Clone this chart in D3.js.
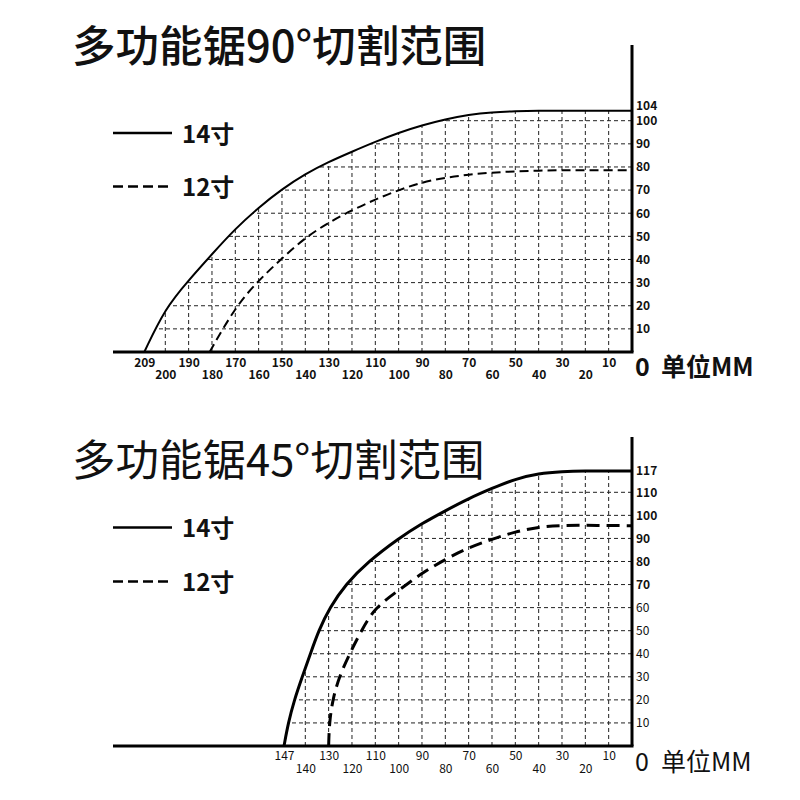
<!DOCTYPE html>
<html>
<head>
<meta charset="utf-8">
<script src="https://cdn.jsdelivr.net/npm/d3@7"></script>
<style>
  body { margin: 0; background: #fff; }
  text { font-family: "Noto Sans CJK SC", "Noto Sans", sans-serif; fill: #111; }
</style>
</head>
<body>
<script>
// ---- data ----
const titles = ['多功能锯90°切割范围', '多功能锯45°切割范围'];
const legendNames = ['14寸', '12寸'];

// 90 degree chart
const xTicks90Upper = [209, 190, 170, 150, 130, 110, 90, 70, 50, 30, 10];
const xTicks90Lower = [200, 180, 160, 140, 120, 100, 80, 60, 40, 20];
const yTicks90 = [104, 100, 90, 80, 70, 60, 50, 40, 30, 20, 10];
const x14_90 = [209, 200, 190, 180, 170, 160, 150, 140, 130, 120, 110, 100, 90, 80, 70, 60, 50, 40, 30, 20, 10, 0];
const y14_90 = [0, 19, 31, 42.3, 53.3, 62.5, 70.4, 77, 82.2, 86.6, 90.9, 94.8, 98, 100.6, 102.4, 103.4, 103.8, 104, 104, 104, 104, 104];
const x12_90 = [181, 170, 160, 150, 140, 130, 120, 110, 100, 90, 80, 70, 60, 50, 40, 30, 20, 10, 0];
const y12_90 = [0, 19.5, 31, 40.5, 49.5, 56, 61.3, 66, 70, 73.4, 75.4, 76.7, 77.6, 78.1, 78.4, 78.6, 78.6, 78.6, 78.6];

// 45 degree chart
const xTicks45Upper = [147, 130, 110, 90, 70, 50, 30, 10];
const xTicks45Lower = [140, 120, 100, 80, 60, 40, 20];
const yTicks45 = [117, 110, 100, 90, 80, 70, 60, 50, 40, 30, 20, 10];
const x14_45 = [147, 145.6, 143.6, 141, 137.8, 134.3, 129.5, 122.8, 113, 100, 90, 80, 70, 60, 50, 40, 30, 20, 10, 0];
const y14_45 = [0, 10, 20, 30, 40, 50, 60, 70, 80, 90, 96.5, 102, 107.3, 111.3, 114.4, 116.2, 116.8, 117, 117, 117];
const x12_45 = [130, 129.7, 128.3, 125.5, 121, 116, 110.2, 100, 90, 80, 70, 60, 50, 40, 30, 20, 10, 0];
const y12_45 = [0, 10, 20, 30, 40, 50, 60, 67.5, 75, 81, 86, 89.7, 92.9, 95, 95.7, 95.7, 95.6, 95.5];

const zip = (xs, ys) => xs.map((v, i) => ({x: v, y: ys[i]}));

const svg = d3.select('body').append('svg')
  .attr('width', 800).attr('height', 800)
  .style('background', '#fff');

function drawChart(c) {
  const g = svg.append('g');
  const x = d3.scaleLinear().domain(c.xDomain).range(c.xRange);
  const y = d3.scaleLinear().domain(c.yDomain).range(c.yRange);
  const solid = zip(c.xs14, c.ys14);
  const dashed = zip(c.xs12, c.ys12);

  // title
  g.append('text')
    .attr('x', 72).attr('y', c.titleY)
    .attr('font-size', 43.5).attr('font-weight', c.titleWeight)
    .text(c.title);

  // clip = area under the 14 inch curve
  const area = d3.area()
    .x(d => x(d.x)).y0(y(0)).y1(d => y(d.y))
    .curve(d3.curveBasis);
  g.append('clipPath').attr('id', c.id)
    .append('path').attr('d', area(solid));

  // grid
  const grid = g.append('g')
    .attr('clip-path', `url(#${c.id})`)
    .attr('stroke', '#222').attr('stroke-width', 1)
    .attr('stroke-dasharray', '4,3');
  grid.selectAll('.vx').data(c.gridX).join('line')
    .attr('x1', d => x(d)).attr('x2', d => x(d))
    .attr('y1', y(0)).attr('y2', c.axisTop);
  grid.selectAll('.hy').data(c.gridY).join('line')
    .attr('y1', d => y(d)).attr('y2', d => y(d))
    .attr('x1', x(0)).attr('x2', c.axisLeft);

  // curves
  const line = d3.line().x(d => x(d.x)).y(d => y(d.y)).curve(d3.curveBasis);
  g.append('path').attr('d', line(solid))
    .attr('fill', 'none').attr('stroke', '#000').attr('stroke-width', c.curveWidth);
  g.append('path').attr('d', line(dashed))
    .attr('fill', 'none').attr('stroke', '#000').attr('stroke-width', c.curveWidth)
    .attr('stroke-dasharray', c.curveDash);

  // axes lines
  g.append('line')
    .attr('x1', c.axisLeft).attr('x2', x(0) + 1.5)
    .attr('y1', y(0)).attr('y2', y(0))
    .attr('stroke', '#000').attr('stroke-width', 3);
  g.append('line')
    .attr('x1', x(0)).attr('x2', x(0))
    .attr('y1', y(0)).attr('y2', c.axisTop)
    .attr('stroke', '#000').attr('stroke-width', 3);

  // x tick labels, two staggered rows
  [[c.xUpper, c.padUpper], [c.xLower, c.padLower]].forEach(([vals, pad]) => {
    const ax = g.append('g')
      .attr('transform', `translate(0,${y(0)})`)
      .call(d3.axisBottom(x).tickValues(vals).tickSize(0).tickPadding(pad));
    ax.select('.domain').remove();
    ax.selectAll('text')
      .attr('font-family', '"Noto Sans CJK SC"')
      .attr('font-size', 12)
      .attr('font-weight', c.xWeight)
      .attr('fill', '#111');
  });

  // y tick labels
  const ay = g.append('g')
    .attr('transform', `translate(${x(0)},0)`)
    .call(d3.axisRight(y).tickValues(c.yTicks).tickSize(0).tickPadding(4));
  ay.select('.domain').remove();
  ay.selectAll('text')
    .attr('font-family', '"Noto Sans CJK SC"')
    .attr('font-size', 12)
    .attr('font-weight', d => c.yWeight(d))
    .attr('fill', '#111');
  ay.selectAll('.tick')
    .filter(d => d === c.yLift)
    .select('text').attr('y', -5);

  // unit label
  g.append('text').attr('x', 635).attr('y', c.unitY)
    .attr('font-size', 25).attr('font-weight', c.unitWeight).text('0');
  g.append('text').attr('x', 661).attr('y', c.unitY)
    .attr('font-size', 25).attr('font-weight', c.unitWeight).text('单位MM');

  // legend
  legendNames.forEach((name, i) => {
    g.append('line')
      .attr('x1', 113).attr('x2', 172)
      .attr('y1', c.legendY[i]).attr('y2', c.legendY[i])
      .attr('stroke', '#000').attr('stroke-width', 2.5)
      .attr('stroke-dasharray', i === 0 ? null : '10,5');
    g.append('text')
      .attr('x', 182).attr('y', c.legendY[i] + 1.5)
      .attr('dy', '0.35em')
      .attr('font-size', 24).attr('font-weight', 700)
      .text(name);
  });
}

drawChart({
  id: 'clip90', title: titles[0], titleY: 62, titleWeight: 500,
  xDomain: [0, 200], xRange: [632, 165.3],
  yDomain: [0, 100, 104], yRange: [352, 120.7, 110.7],
  axisTop: 45, axisLeft: 113,
  xs14: x14_90, ys14: y14_90, xs12: x12_90, ys12: y12_90,
  gridX: d3.range(10, 201, 10), gridY: d3.range(10, 101, 10),
  curveWidth: 2, curveDash: '9,5',
  xUpper: xTicks90Upper, xLower: xTicks90Lower, padUpper: 6.8, padLower: 18.2,
  xWeight: 700, yTicks: yTicks90, yWeight: () => 700, yLift: 104,
  unitY: 376, unitWeight: 700,
  legendY: [133, 186.5]
});

drawChart({
  id: 'clip45', title: titles[1], titleY: 476, titleWeight: 400,
  xDomain: [0, 140, 147], xRange: [632, 305.3, 284],
  yDomain: [0, 110, 117], yRange: [746, 492.3, 471],
  axisTop: 437, axisLeft: 113,
  xs14: x14_45, ys14: y14_45, xs12: x12_45, ys12: y12_45,
  gridX: d3.range(10, 141, 10), gridY: d3.range(10, 111, 10),
  curveWidth: 3, curveDash: '13,7',
  xUpper: xTicks45Upper, xLower: xTicks45Lower, padUpper: 5.8, padLower: 18,
  xWeight: 400, yTicks: yTicks45, yWeight: d => (d >= 70 ? 700 : 400), yLift: null,
  unitY: 771, unitWeight: 400,
  legendY: [527.5, 581.5]
});
</script>
</body>
</html>
